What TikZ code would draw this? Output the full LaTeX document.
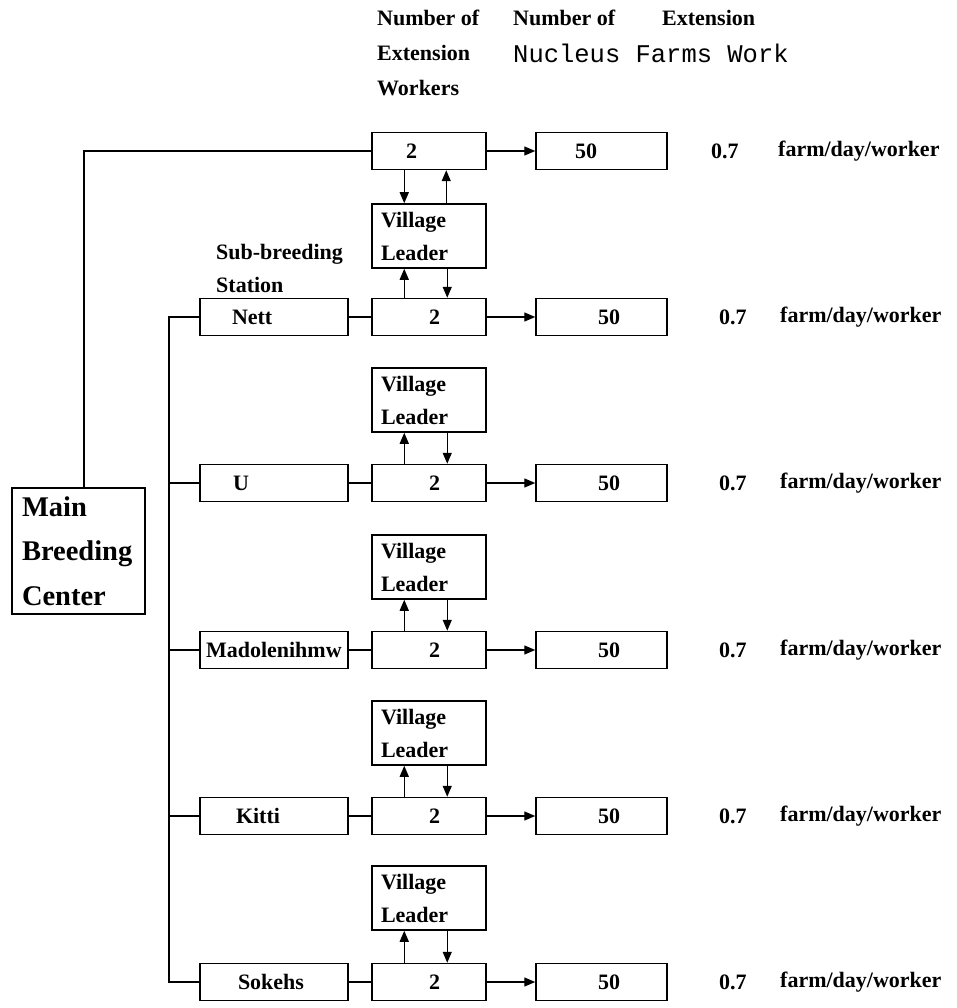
\documentclass[tikz,border=0pt]{standalone}
\usepackage{fontspec}
\setmainfont{Liberation Serif}
\newfontfamily\monofont{Liberation Mono}
\usetikzlibrary{arrows.meta,calc}
\tikzset{
 nbox/.style={draw, line width=1.5pt, minimum height=37pt, text width=#1, align=left, font=\fontsize{22}{26}\selectfont\bfseries},
 vlbox/.style={draw, line width=1.5pt, minimum height=64pt, text width=114pt, align=left, font=\fontsize{22}{33}\selectfont\bfseries},
 mainbox/.style={draw, line width=1.6pt, minimum height=126pt, text width=133pt, align=left, font=\fontsize{28.5}{44.5}\selectfont\bfseries},
 lbl/.style={anchor=west, font=\fontsize{22}{35}\selectfont\bfseries, align=left},
 conn/.style={line width=1.4pt},
 arr/.style={line width=1.4pt, -{Triangle[length=11pt,width=9pt]}},
}
\begin{document}
\begin{tikzpicture}[x=1pt,y=-1pt, every node/.append style={inner sep=0pt}]
\fill[white] (0,0) rectangle (957,1008);
\useasboundingbox (0,0) rectangle (957,1008);

% header
\node[lbl] (h1) at (377,53) {Number of\\Extension\\Workers};
\node[lbl] (h2) at (513,18) {Number of};
\node[lbl, font=\monofont\fontsize{25.5}{30}\selectfont] (h3) at (513,53) {Nucleus Farms Work};
\node[lbl] (h4) at (662,18) {Extension};

% top row
\node[nbox=114pt] (two0) at (429,151) {\hspace*{34pt}2};
\node[nbox=131pt] (fif0) at (601.5,151) {\hspace*{39pt}50};
\node[lbl] (rate0) at (711,151) {0.7};
\node[lbl] (unit0) at (778,151) {farm/day/worker};
\draw[arr] (two0) -- (fif0);

% station rows
\foreach \i/\y/\nm/\ins in {1/317/Nett/32, 2/483/U/33, 3/650/Madolenihmw/6, 4/816/Kitti/36, 5/982/Sokehs/38} {
  \node[nbox=148pt] (sub\i) at (274,\y) {\hspace*{\ins pt}\nm};
  \node[nbox=114pt] (two\i) at (429,\y) {\hspace*{57pt}2};
  \node[nbox=131pt] (fif\i) at (601.5,\y) {\hspace*{62pt}50};
  \node[lbl] (rate\i) at (719,\y) {0.7};
  \node[lbl] (unit\i) at (780,\y) {farm/day/worker};
  \draw[conn] (sub\i) -- (two\i);
  \draw[arr] (two\i) -- (fif\i);
}

% village leaders
\foreach \j/\y in {0/236,1/400,2/567,3/733,4/898} {
  \node[vlbox] (vl\j) at (429,\y) {\hspace*{9pt}Village\\\hspace*{9pt}Leader};
}
\draw[arr] ([xshift=33pt]two0.south west) -- ([xshift=33pt]vl0.north west);
\draw[arr] ([xshift=75pt]vl0.north west) -- ([xshift=75pt]two0.south west);
\foreach \j [evaluate=\j as \k using int(\j+1)] in {0,...,4} {
  \draw[arr] ([xshift=33pt]two\k.north west) -- ([xshift=33pt]vl\j.south west);
  \draw[arr] ([xshift=76pt]vl\j.south west) -- ([xshift=76pt]two\k.north west);
}

% sub-breeding label
\node[lbl, font=\fontsize{22}{33}\selectfont\bfseries] (sbs) at (216,268) {Sub-breeding\\Station};

% main centre
\node[mainbox] (main) at (78.5,551) {\hspace*{10pt}Main\\\hspace*{10pt}Breeding\\\hspace*{10pt}Center};
\draw[conn] ([xshift=5.5pt]main.north) |- (two0.west);

% bus of sub-stations
\coordinate (busT) at (169,317);
\coordinate (busB) at (169,982);
\draw[conn] (sub1.west) -- (busT) -- (busB) -- (sub5.west);
\foreach \i in {2,3,4} \draw[conn] (busT |- sub\i.west) -- (sub\i.west);
\end{tikzpicture}
\end{document}
